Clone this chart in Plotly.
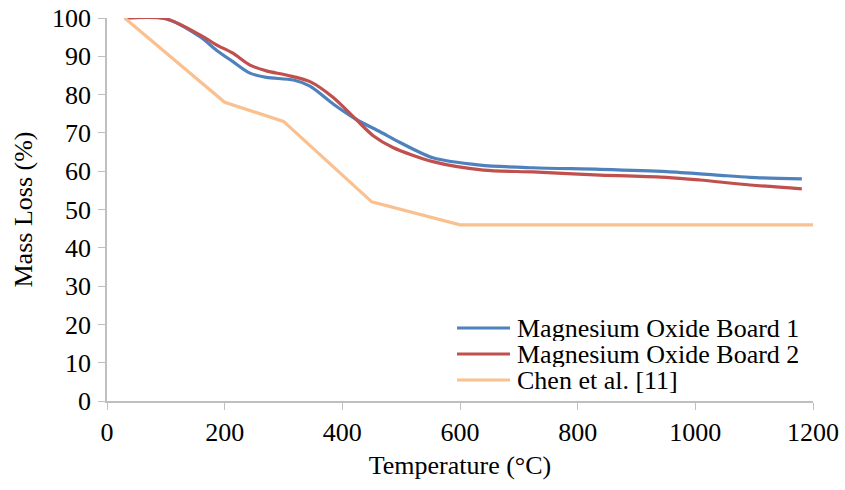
import plotly.graph_objects as go

# Data
temp_board1 = [30, 100, 158, 186, 214, 243, 271, 317, 345, 385, 424, 464, 498, 554, 634, 724, 838, 951, 1036, 1093, 1181]
mass_board1 = [100, 99.8, 95.1, 91.6, 88.6, 85.6, 84.5, 83.8, 82.2, 77.5, 73.5, 70.3, 67.5, 63.5, 61.6, 60.9, 60.5, 59.9, 59.0, 58.4, 58.0]

temp_board2 = [30, 100, 158, 186, 214, 243, 271, 305, 345, 385, 424, 453, 486, 554, 640, 724, 838, 951, 1008, 1093, 1181]
mass_board2 = [100, 99.8, 95.6, 93.0, 90.8, 87.7, 86.2, 85.1, 83.4, 79.2, 73.4, 69.2, 66.2, 62.5, 60.3, 59.8, 59.0, 58.4, 57.7, 56.4, 55.4]

temp_chen = [30, 200, 300, 450, 600, 1200]
mass_chen = [100, 78, 73, 52, 46, 46]

series_names = ["Magnesium Oxide Board 1", "Magnesium Oxide Board 2", "Chen et al. [11]"]
series_colors = ["#4F81BD", "#C0504D", "#FAC090"]

x_ticks = [0, 200, 400, 600, 800, 1000, 1200]
y_ticks = [0, 10, 20, 30, 40, 50, 60, 70, 80, 90, 100]

FONT = "Liberation Serif"
FS = 26

fig = go.Figure()
fig.add_trace(go.Scatter(x=temp_board1, y=mass_board1, mode="lines", name=series_names[0],
                         line=dict(color=series_colors[0], width=3.2, shape="spline", smoothing=0.8)))
fig.add_trace(go.Scatter(x=temp_board2, y=mass_board2, mode="lines", name=series_names[1],
                         line=dict(color=series_colors[1], width=3.2, shape="spline", smoothing=0.8)))
fig.add_trace(go.Scatter(x=temp_chen, y=mass_chen, mode="lines", name=series_names[2],
                         line=dict(color=series_colors[2], width=3.2)))

# Legend drawn in paper coordinates (compact Excel-like spacing)
legend_rows = [0.1906, 0.1227, 0.0548]
for name, color, ry in zip(series_names, series_colors, legend_rows):
    fig.add_shape(type="line", xref="paper", yref="paper", x0=0.4958, x1=0.5708, y0=ry, y1=ry,
                  line=dict(color=color, width=3.2))
    fig.add_annotation(xref="paper", yref="paper", x=0.578, y=ry, text=name, showarrow=False,
                       xanchor="left", yanchor="middle", height=26, valign="middle",
                       font=dict(family=FONT, size=FS, color="black"))

fig.update_layout(
    width=845, height=490,
    margin=dict(l=107, r=32, t=18, b=89, autoexpand=False),
    paper_bgcolor="white", plot_bgcolor="white",
    font=dict(family=FONT, size=FS, color="black"),
    showlegend=False,
    xaxis=dict(range=[0, 1200], tickvals=x_ticks, showgrid=False, zeroline=False,
               automargin=False, ticklabeloverflow="allow",
               showline=True, linecolor="#BFBFBF", linewidth=1.5,
               ticks="outside", ticklen=7, tickcolor="#BFBFBF",
               tickfont=dict(family=FONT, size=FS),
               title=dict(text="Temperature (°C)", font=dict(family=FONT, size=FS), standoff=10)),
    yaxis=dict(range=[0, 100], tickvals=y_ticks, showgrid=False, zeroline=False,
               automargin=False, ticklabeloverflow="allow", ticklabelstandoff=2,
               showline=True, linecolor="#BFBFBF", linewidth=1.5,
               ticks="outside", ticklen=7, tickcolor="#BFBFBF",
               tickfont=dict(family=FONT, size=FS),
               title=dict(text="Mass Loss (%)", font=dict(family=FONT, size=FS), standoff=12)),
)

fig.write_html("out.html", config={"displayModeBar": False},
               post_script="document.body.style.margin='0';")
